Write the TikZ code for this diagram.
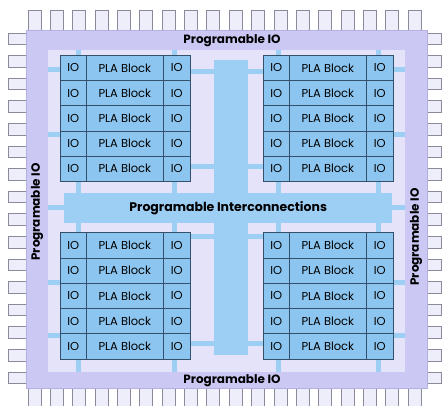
\documentclass[tikz,border=0pt]{standalone}
\usepackage{fontspec}
\setmainfont{Poppins}
\definecolor{bodyc}{HTML}{CBC8F4}
\definecolor{innerc}{HTML}{E4E3F9}
\definecolor{barc}{HTML}{9DCFF5}
\definecolor{cellc}{HTML}{8CC6F0}
\definecolor{gridc}{HTML}{34506A}
\definecolor{pinf}{HTML}{EEEEFA}
\definecolor{pind}{HTML}{8A8A9C}
\definecolor{bodyd}{HTML}{B4B1E2}
\begin{document}
\begin{tikzpicture}[x=1pt,y=-1pt,
  pinbox/.style={draw=pind,fill=pinf,line width=0.7pt},
  stub/.style={fill=barc},
  cell/.style={draw=gridc,fill=cellc,line width=0.7pt,inner sep=0pt,anchor=north west,
    minimum height=25.2pt,font=\fontsize{11.5}{13}\selectfont},
  iolabel/.style={font=\fontsize{12}{14}\selectfont\bfseries,text=black},
  barbox/.style={fill=barc,inner sep=0pt,anchor=north west}]
\useasboundingbox (0,0) rectangle (442,406);
% pins
\foreach \i in {0,...,17}{
  \draw[pinbox] ({28+22.35*\i},10) rectangle ({41+22.35*\i},31);
  \draw[pinbox] ({28+22.35*\i},387) rectangle ({41+22.35*\i},406);
}
\foreach \j in {0,...,15}{
  \draw[pinbox] (8,{33+22.6*\j}) rectangle (27,{44.5+22.6*\j});
  \draw[pinbox] (426,{33+22.6*\j}) rectangle (441.5,{44.5+22.6*\j});
}
% chip body
\node[draw=bodyd,fill=bodyc,line width=0.7pt,inner sep=0pt,anchor=north west,
  minimum width=401pt,minimum height=358pt] (chip) at (26,30) {};
\node[fill=innerc,inner sep=0pt,anchor=north west,
  minimum width=357pt,minimum height=322pt] (inner) at (48,50) {};
% interconnect bars
\node[barbox,minimum width=34pt,minimum height=295pt] (vbar) at (214,60) {};
\node[barbox,minimum width=328pt,minimum height=30pt,
  font=\fontsize{12.5}{14}\selectfont\bfseries] (hbar) at (64,193) {Programable Interconnections};
% stubs
\foreach \x in {78,174,278,378}{
  \fill[stub] ({\x-2.5},50) rectangle ({\x+2.5},56);
  \fill[stub] ({\x-2.5},180) rectangle ({\x+2.5},194);
  \fill[stub] ({\x-2.5},222) rectangle ({\x+2.5},233);
  \fill[stub] ({\x-2.5},357) rectangle ({\x+2.5},372);
}
\foreach \y in {70,135,283,335}{
  \fill[stub] (48,{\y-2.5}) rectangle (61,{\y+2.5});
  \fill[stub] (392,{\y-2.5}) rectangle (405,{\y+2.5});
}
\foreach \y in {72,167,237,343}{
  \fill[stub] (189,{\y-2.5}) rectangle (215,{\y+2.5});
  \fill[stub] (247,{\y-2.5}) rectangle (264,{\y+2.5});
}
\fill[stub] (48,205.5) rectangle (65,210.5);
\fill[stub] (391,205.5) rectangle (405,210.5);
% PLA groups
\foreach \g/\gx/\gy in {tl/60/55, tr/263/55, bl/60/232.5, br/263/232.5}{
  \foreach \r in {0,...,4}{
    \node[cell,minimum width=26pt] (\g-\r-a) at (\gx,{\gy+25.2*\r}) {IO};
    \node[cell,minimum width=77pt] (\g-\r-b) at ({\gx+26},{\gy+25.2*\r}) {PLA Block};
    \node[cell,minimum width=27pt] (\g-\r-c) at ({\gx+103},{\gy+25.2*\r}) {IO};
  }
}
% IO labels
\node[iolabel] (iotop) at (232,41) {Programable IO};
\node[iolabel] (iobot) at (232,381) {Programable IO};
\node[iolabel,rotate=90] (ioleft) at (37,212) {Programable IO};
\node[iolabel,rotate=90] (ioright) at (416,237) {Programable IO};
\end{tikzpicture}
\end{document}
